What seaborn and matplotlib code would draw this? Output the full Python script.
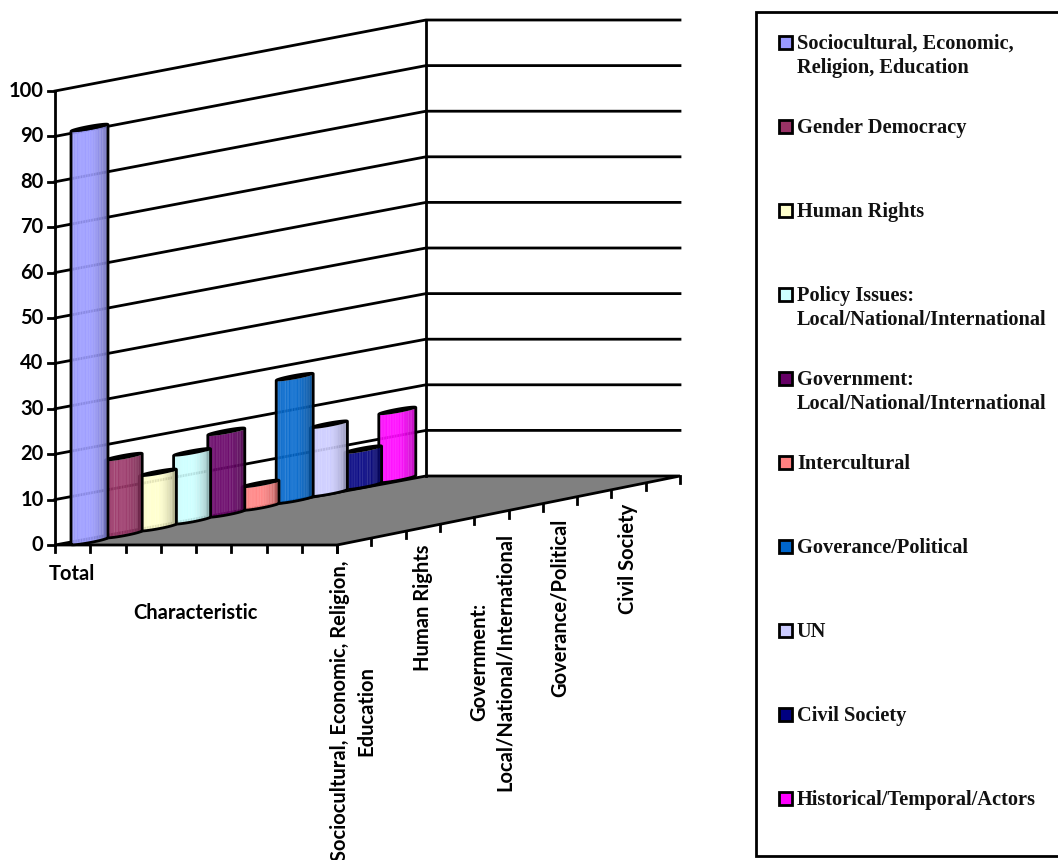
import numpy as np
import pandas as pd
import matplotlib
matplotlib.use("Agg")
import matplotlib.pyplot as plt
import seaborn as sns

# Series shown along the depth axis of the 3-D column chart
categories = ["Sociocultural, Economic,\nReligion, Education", "Gender Democracy", "Human Rights",
              "Policy Issues:\nLocal/National/International", "Government:\nLocal/National/International",
              "Intercultural", "Goverance/Political", "UN", "Civil Society", "Historical/Temporal/Actors"]
values = [91, 17, 12, 15, 18, 5, 27, 15, 8, 15]
colors = ["#9999FF", "#993366", "#FFFFCC", "#CCFFFF", "#660066",
          "#FF8080", "#0066CC", "#CCCCFF", "#000080", "#FF00FF"]
value_ticks = list(range(0, 101, 10))
depth_labels = ["Sociocultural, Economic, Religion,\nEducation", "Human Rights",
                "Government:\nLocal/National/International", "Goverance/Political", "Civil Society"]
depth_label_x = [353.5, 423, 492, 560, 628]
depth_label_y = [711, 608, 662, 608, 559]

sns.set_theme(style="white")
plt.rcParams["font.family"] = ["Lato", "DejaVu Sans"]
palette = sns.color_palette(colors)
frame = pd.DataFrame({"series": categories, "value": values})

fig = plt.figure(figsize=(10.58, 8.6), dpi=100)
ax = fig.add_axes([0, 0, 1, 1])
ax.set_xlim(0, 1058)
ax.set_ylim(860, 0)
ax.axis("off")

X0, Y0 = 55, 545          # front-left floor corner
FRONT_W, BACK_W = 282, 254
DEPTH_X, DEPTH_Y = 371, -69
UNIT_F, UNIT_B = 4.54, 4.56
LABEL_SIZE = 14.5


def project(x, d, v=0.0):
    """Map chart coordinates (width 0-1, depth 0-1, value) onto the canvas."""
    px = X0 + DEPTH_X * d + x * (FRONT_W + (BACK_W - FRONT_W) * d)
    py = Y0 + DEPTH_Y * d - v * (UNIT_F + (UNIT_B - UNIT_F) * d)
    return px, py


LINE = dict(color="black", lw=2, solid_capstyle="projecting", zorder=2)

# Floor
ax.fill(*zip(project(0, 0), project(1, 0), project(1, 1), project(0, 1)),
        facecolor="#808080", edgecolor="black", lw=2, zorder=1)

# Walls and gridlines
for v in value_ticks:
    lx, ly = project(0, 0, v)
    bx, by = project(0, 1, v)
    rx, ry = project(1, 1, v)
    if v > 0:
        ax.plot([lx, bx, rx], [ly, by, ry], **LINE)
    ax.plot([lx - 7, lx], [ly, ly], **LINE)
    ax.text(43.5, ly, str(v), ha="right", va="center", fontsize=LABEL_SIZE, fontweight="bold", color="black")
ax.plot(*zip(project(0, 0), project(0, 0, 100)), **LINE)
ax.plot(*zip(project(0, 1), project(0, 1, 100)), **LINE)

# Tick marks on the floor edges
for i in range(9):
    px, py = project(i / 8, 0)
    ax.plot([px, px], [py, py + 7], **LINE)
for i in range(11):
    px, py = project(1, i / 10)
    ax.plot([px, px], [py, py + 7], **LINE)

# Cylindrical columns, drawn from back to front so nearer ones overlap
FIRST_CX, COLUMN_STEP = 89.5, 34.2
HALF_W, HALF_RISE, BULGE = 18.5, 3.4, 1.6
u = np.linspace(-1, 1, 61)
stripe = np.array([0.0, 0.10, 0.02, 0.13, 0.03, 0.0, 0.11, 0.03, 0.08, 0.0, 0.04])
for i in reversed(range(len(frame))):
    val = frame.loc[i, "value"]
    base = np.array(palette[i])
    cx = FIRST_CX + COLUMN_STEP * i
    cy = project(0.0, (i + 0.5) / 10)[1] - 0.5
    top_y = cy - val * UNIT_F
    xs = cx + HALF_W * u
    edge_front_top = top_y - HALF_RISE * u + BULGE * np.sqrt(1 - u ** 2)
    edge_back_top = top_y - HALF_RISE * u - BULGE * np.sqrt(1 - u ** 2)
    edge_bottom = cy - HALF_RISE * u + BULGE * np.sqrt(1 - u ** 2)
    layer = 3 + 2 * (10 - i)
    for j in range(len(u) - 1):
        shade = 1.0 - 0.32 * max(0.0, u[j]) ** 1.5 - 0.08 * max(0.0, -u[j] - 0.6)
        tint = stripe[j % len(stripe)]
        col = base * shade
        col = col + (1 - col) * tint
        ax.fill_between(xs[j:j + 2] + [0, 0.3], edge_front_top[j:j + 2], edge_bottom[j:j + 2],
                        color=col, lw=0, zorder=layer)
    ax.fill_between(xs, edge_back_top, edge_front_top, color="black", lw=0, zorder=layer)
    outline_x = np.r_[xs, xs[::-1], xs[0]]
    outline_y = np.r_[edge_bottom, edge_back_top[::-1], edge_bottom[0]]
    ax.plot(outline_x, outline_y, color="black", lw=2, zorder=layer + 1)

# Axis captions
ax.text(72, 574, "Total", ha="center", va="center", fontsize=LABEL_SIZE, fontweight="bold", color="black")
ax.text(195.5, 613, "Characteristic", ha="center", va="center", fontsize=LABEL_SIZE, fontweight="bold", color="black")
for label, x, y in zip(depth_labels, depth_label_x, depth_label_y):
    ax.text(x, y, label, rotation=90, ha="center", va="center", multialignment="center",
            fontsize=LABEL_SIZE, fontweight="bold", color="black", linespacing=1.4)

# Key panel; its right edge runs off the canvas
ax.add_patch(plt.Rectangle((756, 12), 330, 844, facecolor="white", edgecolor="black", lw=2, zorder=1))
key_y = [42 + 84 * k for k in range(len(categories))]
for name, col, y in zip(frame["series"], palette, key_y):
    ax.add_patch(plt.Rectangle((779, y - 6.5), 13, 13, facecolor=col, edgecolor="black", lw=2, zorder=2))
    ax.text(797, y - 8, name, ha="left", va="top", fontsize=14.7, fontweight="bold",
            family="Liberation Serif", color="#111111", linespacing=1.25)

sns.despine(ax=ax, left=True, bottom=True)
fig.savefig("out.png", dpi=100)
